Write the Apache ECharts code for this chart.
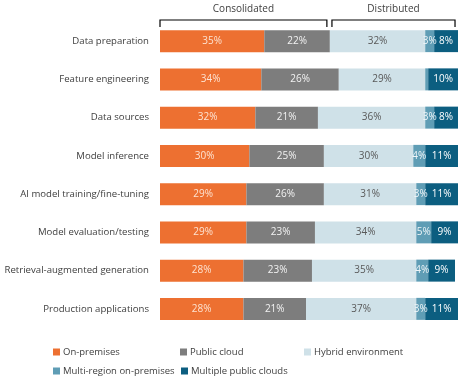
<!DOCTYPE html>
<html>
<head>
<meta charset="utf-8">
<script src="https://cdn.jsdelivr.net/npm/echarts@6/dist/echarts.min.js"></script>
<style>
html,body{margin:0;padding:0;background:#fff;}
#one{width:467px;height:376px;}
</style>
</head>
<body>
<div id="one"></div>
<script>
var categories = ['Data preparation', 'Feature engineering', 'Data sources', 'Model inference',
    'AI model training/fine-tuning', 'Model evaluation/testing', 'Retrieval-augmented generation', 'Production applications'];
var onPremises = [35, 34, 32, 30, 29, 29, 28, 28];
var publicCloud = [22, 26, 21, 25, 26, 23, 23, 21];
var hybrid = [32, 29, 36, 30, 31, 34, 35, 37];
var multiRegion = [3, 1, 3, 4, 3, 5, 4, 3];
var multiPublic = [8, 10, 8, 11, 11, 9, 9, 11];
var seriesNames = ['On-premises', 'Public cloud', 'Hybrid environment', 'Multi-region on-premises', 'Multiple public clouds'];
// 括号范围 (百分比)
var groups = [
    {name: 'Consolidated', from: 0, to: 56},
    {name: 'Distributed', from: 57.7, to: 99}
];

var font = '"Open Sans", sans-serif';
var mainContainer = document.getElementById('one');
var chart = echarts.init(mainContainer);

function mkSeries(name, data, color, labelColor) {
    return {
        name: name,
        type: 'bar',
        stack: 'all',
        barWidth: 22,
        data: data,
        itemStyle: {color: color},
        label: {
            show: true,
            position: 'inside',
            color: labelColor,
            fontFamily: font,
            fontSize: 10,
            formatter: function (p) { return p.value < 2 ? '' : p.value + '%'; }
        }
    };
}

// 图例位置 (每项单独放)
var legendPos = [[48, 342], [175, 342], [299, 342], [48, 361], [176, 361]];
var legends = seriesNames.map(function (n, i) {
    return {
        data: [n],
        left: legendPos[i][0], top: legendPos[i][1],
        itemWidth: 7, itemHeight: 7,
        icon: 'rect',
        textStyle: {color: '#404040', fontFamily: font, fontSize: 9.5, padding: [0, 0, 0, -2]}
    };
});

var option = {
    animation: false,
    grid: {left: 160, right: 9, top: 22, height: 306, outerBoundsMode: 'none', containLabel: false},
    xAxis: {type: 'value', min: 0, max: 100, show: false},
    yAxis: {
        type: 'category',
        inverse: true,
        data: categories,
        axisLine: {show: false},
        axisTick: {show: false},
        axisLabel: {color: '#404040', fontFamily: font, fontSize: 9.6, margin: 11}
    },
    legend: legends,
    series: [
        mkSeries(seriesNames[0], onPremises, '#ED7031', '#fde3d2'),
        mkSeries(seriesNames[1], publicCloud, '#7D7D7D', '#f2f2f2'),
        mkSeries(seriesNames[2], hybrid, '#CFE1E8', '#595959'),
        mkSeries(seriesNames[3], multiRegion, '#5F9DB5', '#eef5f8'),
        mkSeries(seriesNames[4], multiPublic, '#0C5E80', '#ffffff')
    ]
};
chart.setOption(option);

// 画括号和标题
var graphics = [];
groups.forEach(function (g) {
    var x1 = chart.convertToPixel({gridIndex: 0}, [g.from, 0])[0];
    var x2 = chart.convertToPixel({gridIndex: 0}, [g.to, 0])[0];
    graphics.push({
        type: 'polyline',
        shape: {points: [[x1, 27], [x1, 20], [x2, 20], [x2, 27]]},
        style: {stroke: '#000', lineWidth: 1.2, fill: null}
    });
    graphics.push({
        type: 'text',
        x: (x1 + x2) / 2, y: 9,
        style: {text: g.name, fill: '#404040', font: '10px ' + font, align: 'center', verticalAlign: 'middle'}
    });
});
chart.setOption({graphic: graphics});
</script>
</body>
</html>
